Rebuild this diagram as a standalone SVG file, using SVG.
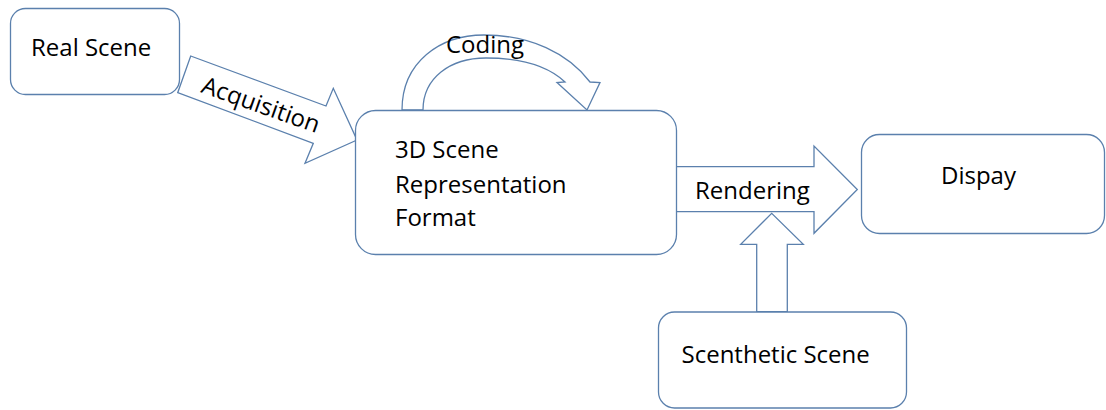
<svg xmlns="http://www.w3.org/2000/svg" width="1106" height="410" viewBox="0 0 1106 410">
  <style>
    .box { fill: #ffffff; stroke: #5b80ad; stroke-width: 1.3; }
    .arrow { fill: #ffffff; stroke: #5b80ad; stroke-width: 1.3; stroke-linejoin: miter; }
    .label { font-family: "Open Sans", "Liberation Sans", Arial, sans-serif; font-size: 24px; fill: #000000; }
  </style>
  <rect width="1106" height="410" fill="#ffffff"/>

  <!-- block arrows between stages -->
  <g id="connectors">
    <!-- Acquisition -->
    <polygon class="arrow" points="190.7,56 326,106 333.3,88.3 357,140 305,163.3 313.3,143.3 177.7,92.7"/>
    <!-- Rendering -->
    <polygon class="arrow" points="676,166.7 814,166.7 814,146 857.3,189.5 814,233.3 814,211.7 676,211.7"/>
    <!-- synthetic input into rendering -->
    <polygon class="arrow" points="756.7,311.7 756.7,244.3 740.7,244.3 771.7,213.3 803.3,244.3 787.3,244.3 787.3,311.7"/>
    <!-- Coding loop -->
    <path class="arrow" d="M402,110 C402,62 440,35 484,35 C530,35 568,53 590,82 L600,82.5 L587,110 L557,82.5 L565,82 C548,66 520,58 486,58 C450,58 423,78 423,110 Z"/>
  </g>

  <g id="real-scene">
    <rect class="box" x="10.5" y="8.5" width="169" height="86" rx="15"/>
    <text class="label" x="31" y="56">Real Scene</text>
  </g>

  <g id="scene-format">
    <rect class="box" x="355.5" y="110.5" width="321" height="144" rx="20"/>
    <text class="label" x="395" y="158">3D Scene</text>
    <text class="label" x="395" y="192.5">Representation</text>
    <text class="label" x="395" y="226">Format</text>
  </g>

  <g id="display">
    <rect class="box" x="861.5" y="134.5" width="243" height="99" rx="18"/>
    <text class="label" x="941" y="184">Dispay</text>
  </g>

  <g id="synthetic-scene">
    <rect class="box" x="658.5" y="312" width="248" height="96" rx="16"/>
    <text class="label" x="681.5" y="362.5">Scenthetic Scene</text>
  </g>

  <g id="connector-labels">
    <text class="label" transform="translate(200,92) rotate(19.5)">Acquisition</text>
    <text class="label" x="446" y="53">Coding</text>
    <text class="label" x="695" y="199">Rendering</text>
  </g>
</svg>
